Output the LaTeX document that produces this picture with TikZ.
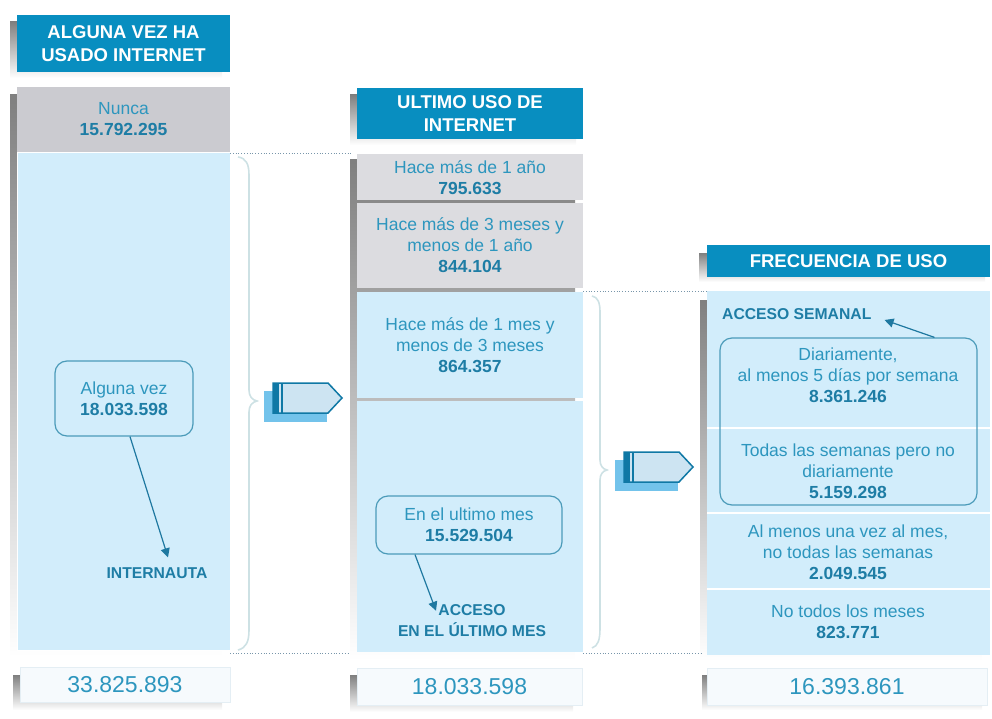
\documentclass[tikz,border=0pt]{standalone}
\usepackage{fontspec}
\setmainfont{Liberation Sans}
\usetikzlibrary{arrows.meta}
\definecolor{headblue}{RGB}{8,142,192}
\definecolor{txtblue}{RGB}{45,150,190}
\definecolor{numblue}{RGB}{30,125,165}
\definecolor{paleblue}{RGB}{210,237,251}
\definecolor{grayA}{RGB}{203,203,208}
\definecolor{grayB}{RGB}{220,220,224}
\definecolor{shade}{RGB}{194,194,199}
\definecolor{bubline}{RGB}{75,155,185}
\definecolor{arrcol}{RGB}{30,120,160}
\definecolor{bracecol}{RGB}{205,225,228}
\definecolor{dotcol}{RGB}{120,150,170}
\definecolor{tagdark}{RGB}{15,120,165}
\definecolor{taglight}{RGB}{205,228,242}
\definecolor{tagshade}{RGB}{115,195,235}
\definecolor{totfill}{RGB}{246,250,253}
\definecolor{totline}{RGB}{228,238,244}
\newcommand\cifra[1]{{\bfseries\color{numblue}#1}}
\begin{document}
\begin{tikzpicture}[x=1pt,y=-1pt,
  txt/.style={text=txtblue, font=\fontsize{17.5}{21}\selectfont, align=center, inner sep=0pt},
  head/.style={fill=headblue, text=white, font=\bfseries\fontsize{18.5}{22.5}\selectfont, align=center, inner sep=0pt},
  lbl/.style={text=numblue, font=\bfseries\fontsize{15.7}{21}\selectfont, align=center, inner sep=0pt},
  tot/.style={fill=totfill, draw=totline, text=txtblue, font=\fontsize{23}{26}\selectfont, inner sep=0pt},
  bubble/.style={draw=bubline, line width=1.2pt, rounded corners=12pt},
  arr/.style={draw=arrcol, line width=1.2pt, -{Triangle[width=9pt,length=9pt]}},
  brace/.style={draw=bracecol, line width=1.6pt},
  guide/.style={draw=dotcol, dotted, line width=0.8pt}]
\useasboundingbox (0,0) rectangle (992,719);

% columna 1
\fill[shade] (10,22) rectangle (222,78);
\node[head, minimum width=213pt, minimum height=57pt] (h1) at (123.5,43.5) {ALGUNA VEZ HA\\USADO INTERNET};
\fill[shade] (10,95) rectangle (222,657);
\node[txt, fill=grayA, minimum width=213pt, minimum height=65pt] (nunca) at (123.5,119.5) {Nunca\\\cifra{15.792.295}};
\fill[paleblue, draw=white] (17,152) rectangle (230,650);
\node[txt, bubble, minimum width=138pt, minimum height=75pt] (alguna) at (124,398.5) {Alguna vez\\\cifra{18.033.598}};
\node[lbl] (internauta) at (157,573) {INTERNAUTA};
\draw[arr] ([xshift=6pt]alguna.south) -- ([xshift=11pt,yshift=10pt]internauta.north);
\fill[shade] (13,675) rectangle (222,710);
\node[tot, minimum width=210pt, minimum height=35pt] (t1) at (125,684.5) {33.825.893};

% columna 2
\fill[shade] (350,95) rectangle (576,145);
\node[head, minimum width=226pt, minimum height=51pt] (h2) at (470,113.5) {ULTIMO USO DE\\INTERNET};
\fill[shade] (350,160) rectangle (575,660);
\node[txt, fill=grayB, minimum width=226pt, minimum height=46pt] (anio) at (470,177.5) {Hace más de 1 año\\\cifra{795.633}};
\node[txt, fill=grayB, minimum width=226pt, minimum height=85pt] (trimes) at (470,245.5) {Hace más de 3 meses y\\menos de 1 año\\\cifra{844.104}};
\node[txt, fill=paleblue, minimum width=226pt, minimum height=106pt] (unmes) at (470,345) {Hace más de 1 mes y\\menos de 3 meses\\\cifra{864.357}};
\fill[paleblue] (357,401) rectangle (583,652);
\node[txt, bubble, minimum width=186pt, minimum height=58pt] (ultimo) at (469,525) {En el ultimo mes\\\cifra{15.529.504}};
\node[lbl] (acceso) at (472,621) {ACCESO\\EN EL ÚLTIMO MES};
\draw[arr] ([xshift=-54pt]ultimo.south) -- ([xshift=-36pt,yshift=-6pt]acceso.north);
\fill[shade] (350,675) rectangle (573,712);
\node[tot, minimum width=225pt, minimum height=37pt] (t2) at (469.5,686.5) {18.033.598};

% columna 3
\fill[shade] (699,253) rectangle (985,282);
\node[head, minimum width=283pt, minimum height=32pt] (h3) at (848.5,261) {FRECUENCIA DE USO};
\fill[shade] (700,300) rectangle (982,661);
\fill[paleblue] (707,291) rectangle (990,655);
\foreach \yy in {428,513,589}
  \draw[white, line width=2pt] (707,\yy) -- (990,\yy);
\node[lbl, anchor=west] (semanal) at (722,314) {ACCESO SEMANAL};
\node[bubble, minimum width=257pt, minimum height=167pt] (semana) at (848.5,421.5) {};
\node[txt] (diario) at (848,375) {Diariamente,\\al menos 5 días por semana\\\cifra{8.361.246}};
\node[txt] (todas) at (848,471) {Todas las semanas pero no\\diariamente\\\cifra{5.159.298}};
\node[txt] (almenos) at (848,552) {Al menos una vez al mes,\\no todas las semanas\\\cifra{2.049.545}};
\node[txt] (notodos) at (848,621.5) {No todos los meses\\\cifra{823.771}};
\draw[arr] ([xshift=86pt]semana.north) -- ([xshift=13pt,yshift=-6pt]semanal.east);
\fill[shade] (702,675) rectangle (982,710);
\node[tot, minimum width=280pt, minimum height=37pt] (t3) at (847,686.5) {16.393.861};

% guias y llaves
\draw[guide] (230,153) -- (352,153);
\draw[guide] (230,653) -- (350,653);
\draw[guide] (583,291) -- (707,291);
\draw[guide] (583,653) -- (702,653);
\draw[brace] (238,157) .. controls (246,158) and (249,164) .. (249,175) -- (249,390)
  .. controls (249,396) and (252,400) .. (257,401) .. controls (252,402) and (249,406) .. (249,412)
  -- (249,630) .. controls (249,642) and (246,648) .. (238,650);
\draw[brace] (592,296) .. controls (598,297) and (600,303) .. (600,312) -- (600,460)
  .. controls (600,466) and (603,469) .. (607,470) .. controls (603,471) and (600,474) .. (600,480)
  -- (600,628) .. controls (600,640) and (598,646) .. (592,648);

% flechas
\foreach \ax/\ay in {273/383, 624/452}
{
  \fill[tagshade] (\ax-9,\ay+8) rectangle (\ax+54,\ay+39);
  \filldraw[fill=taglight, draw=tagdark, line width=1.5pt] (\ax,\ay) -- (\ax+55,\ay) -- (\ax+69,\ay+15) -- (\ax+55,\ay+30) -- (\ax,\ay+30) -- cycle;
  \fill[tagdark] (\ax,\ay) rectangle (\ax+6,\ay+30);
  \draw[tagdark, line width=1.2pt] (\ax+9,\ay) -- (\ax+9,\ay+30);
}
\end{tikzpicture}
\end{document}
